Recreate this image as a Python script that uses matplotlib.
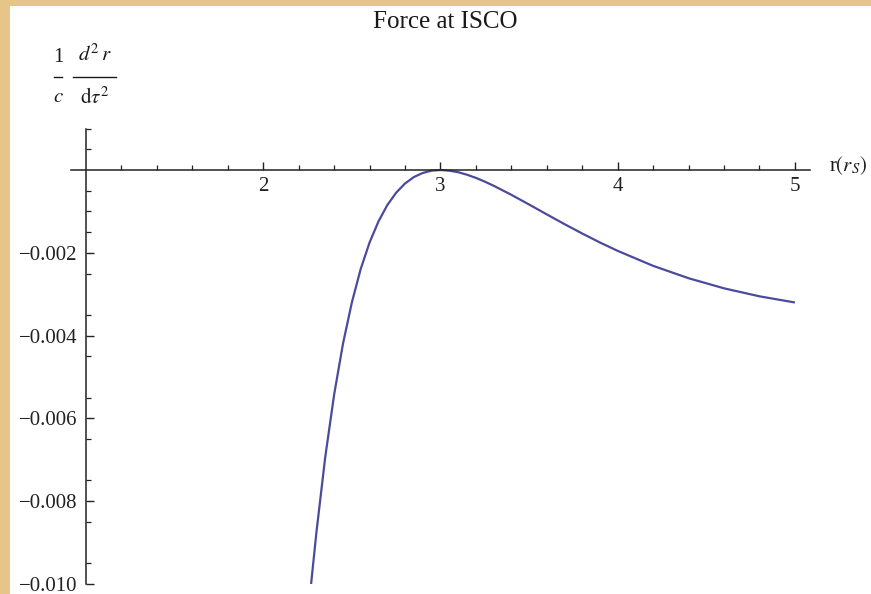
import matplotlib
matplotlib.use("Agg")
import matplotlib.pyplot as plt
from matplotlib.patches import Rectangle
from matplotlib.lines import Line2D
from matplotlib.ticker import FixedLocator, FuncFormatter

plt.rcParams['font.family'] = 'Liberation Serif'
plt.rcParams['mathtext.fontset'] = 'stix'

# radial acceleration at the ISCO, r in units of r_S
r = [2.27, 2.30, 2.35, 2.40, 2.45, 2.50, 2.55, 2.60, 2.65, 2.70,
     2.75, 2.80, 2.85, 2.90, 2.95, 3.00, 3.05, 3.10, 3.15, 3.20, 3.25,
     3.30, 3.40, 3.50, 3.60, 3.70, 3.80, 3.90, 4.00, 4.20, 4.40, 4.60,
     4.80, 5.00]
accel = [-0.01000, -0.008755, -0.006930, -0.005426, -0.004195, -0.003200,
         -0.002390, -0.001751, -0.001244, -0.000847, -0.000548, -0.000326,
         -0.000170, -0.000071, -0.000015, 0.0, -0.000016, -0.000053,
         -0.000114, -0.000190, -0.000280, -0.000380, -0.000599, -0.000833,
         -0.001072, -0.001307, -0.001534, -0.001751, -0.001953, -0.002315,
         -0.002614, -0.002858, -0.003051, -0.003200]

x_major = [2, 3, 4, 5]
x_minor = [1.2, 1.4, 1.6, 1.8, 2.2, 2.4, 2.6, 2.8, 3.2, 3.4, 3.6, 3.8,
           4.2, 4.4, 4.6, 4.8]
y_major = [-0.010, -0.008, -0.006, -0.004, -0.002]
y_minor = [-0.0095, -0.0085, -0.0075, -0.0065, -0.0055, -0.0045, -0.0035,
           -0.0025, -0.0015, -0.0010, -0.0005, 0.0005, 0.0010]

W, H = 871, 594
ink = '#1a1a1a'

fig = plt.figure(figsize=(W / 100, H / 100), dpi=100, facecolor='#e6c688')
fig.patches.append(Rectangle((10 / W, 0), 1, 1 - 6 / H, transform=fig.transFigure,
                             facecolor='white', edgecolor='none', zorder=0))

ax = fig.add_axes([0.0784, 0.0099, 0.8546, 0.7875])
ax.set_zorder(2)
ax.patch.set_alpha(0)
ax.plot(r, accel, color='#4b4b9c', lw=1.6, solid_capstyle='butt',
        solid_joinstyle='round', clip_on=False)

ax.set_xlim(0.9, 5.1)
ax.set_ylim(-0.0101, 0.0012)

for s in ['top', 'right']:
    ax.spines[s].set_visible(False)
ax.spines['left'].set_position(('data', 1))
ax.spines['bottom'].set_position(('data', 0))
ax.spines['left'].set_bounds(-0.010, 0.001)
ax.spines['bottom'].set_bounds(0.915, 5.085)
for s in ['left', 'bottom']:
    ax.spines[s].set_linewidth(1.1)
    ax.spines[s].set_color('#222222')

ax.xaxis.set_major_locator(FixedLocator(x_major))
ax.xaxis.set_minor_locator(FixedLocator(x_minor))
ax.yaxis.set_major_locator(FixedLocator(y_major))
ax.yaxis.set_minor_locator(FixedLocator(y_minor))
ax.yaxis.set_major_formatter(FuncFormatter(lambda v, p: '\u2212%.3f' % abs(v)))

ax.tick_params(which='major', direction='in', length=6, width=1.0, color='#222222',
               labelsize=15, labelcolor='#222222')
ax.tick_params(which='minor', direction='in', length=3.5, width=0.9, color='#222222')
ax.tick_params(axis='x', pad=5)
ax.tick_params(axis='y', pad=6)


def px(x, y):
    return x / W, 1 - y / H


fig.text(*px(445, 22), 'Force at ISCO', ha='center', va='center', fontsize=18,
         color=ink)

# y axis label: (1/c) d^2 r / d tau^2, built piece by piece
fig.text(*px(58, 57), '1', ha='center', va='center', fontsize=15, color=ink)
fig.text(*px(58, 97), r'$c$', ha='center', va='center', fontsize=15, color=ink)
fig.text(*px(95, 55), r'$d^2\,r$', ha='center', va='center', fontsize=15, color=ink)
fig.text(*px(95, 98), r'$\mathrm{d}\tau^2$', ha='center', va='center', fontsize=15,
         color=ink)
for x0, x1 in [(54, 62), (73, 116)]:
    fig.add_artist(Line2D([x0 / W, x1 / W], [1 - 77 / H, 1 - 77 / H],
                          transform=fig.transFigure, color=ink, lw=1.0))

fig.text(*px(829, 166), r'r$(r_S)$', ha='left', va='center', fontsize=15, color=ink)

fig.savefig('out.png', dpi=100, facecolor=fig.get_facecolor())
